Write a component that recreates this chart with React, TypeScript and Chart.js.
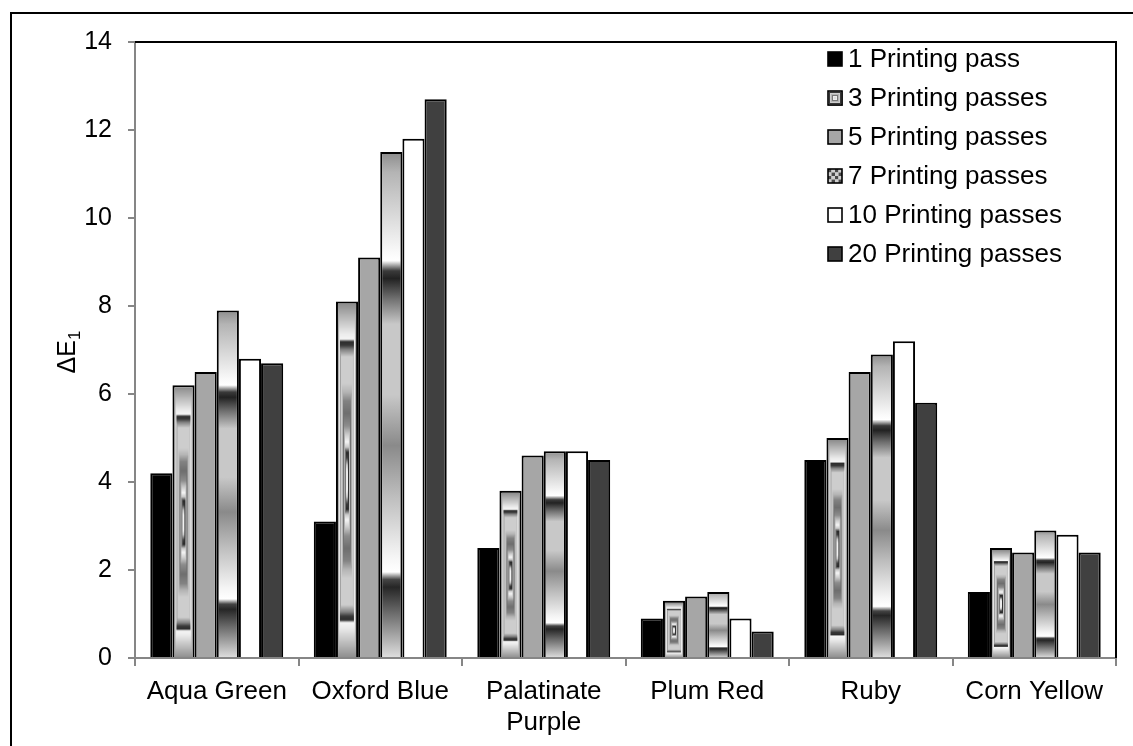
import React, { useEffect, useRef } from 'react';
import { Chart, registerables } from 'chart.js';

Chart.register(...registerables);

// ---------- data ----------
const CATEGORIES: (string | string[])[] = ['Aqua Green', 'Oxford Blue', ['Palatinate', 'Purple'], 'Plum Red', 'Ruby', 'Corn Yellow'];
const SERIES_NAMES = ['1 Printing pass', '3 Printing passes', '5 Printing passes', '7 Printing passes', '10 Printing passes', '20 Printing passes'];
const PASS_1 = [4.2, 3.1, 2.5, 0.9, 4.5, 1.5];
const PASS_3 = [6.2, 8.1, 3.8, 1.3, 5.0, 2.5];
const PASS_5 = [6.5, 9.1, 4.6, 1.4, 6.5, 2.4];
const PASS_7 = [7.9, 11.5, 4.7, 1.5, 6.9, 2.9];
const PASS_10 = [6.8, 11.8, 4.7, 0.9, 7.2, 2.8];
const PASS_20 = [6.7, 12.7, 4.5, 0.6, 5.8, 2.4];
const Y_MIN = 0;
const Y_MAX = 14;
const Y_STEP = 2;
const Y_TITLE_MAIN = 'ΔE';
const Y_TITLE_SUB = '1';

// ---------- style ----------
const FONT = "'Liberation Sans', Arial, Helvetica, sans-serif";
const AXIS_GRAY = '#868686';
const CAT_PCT = 0.813;
const BAR_PCT = 1;
const BORDER = 2;

// rectangle (path) gradient for the "3 passes" series: t = 0 centre, 1 edge
const RECT_STOPS: [number, number][] = [
  [0.0, 235], [0.05, 250], [0.09, 200], [0.13, 60], [0.16, 40], [0.19, 200],
  [0.22, 245], [0.26, 205], [0.31, 140], [0.38, 110], [0.45, 130], [0.5, 180],
  [0.55, 205], [0.7, 205], [0.74, 130], [0.765, 55], [0.785, 45], [0.8, 245],
  [0.83, 235], [0.92, 185], [1.0, 140],
];
// vertical gradient for the "7 passes" series: offset from top of bar
const CHROME_STOPS: [number, string][] = [
  [0, '#8c8c8c'], [0.04, '#b4b4b4'], [0.2, '#fafafa'], [0.215, '#ffffff'],
  [0.235, '#3a3a3a'], [0.25, '#222222'], [0.29, '#707070'], [0.34, '#c8c8c8'],
  [0.48, '#c8c8c8'], [0.58, '#8a8a8a'], [0.68, '#bdbdbd'], [0.8, '#f5f5f5'],
  [0.83, '#ffffff'], [0.845, '#444444'], [0.86, '#262626'], [0.91, '#6a6a6a'],
  [1, '#e0e0e0'],
];

function grayAt(t: number): number {
  for (let i = 1; i < RECT_STOPS.length; i++) {
    const [t1, v1] = RECT_STOPS[i];
    const [t0, v0] = RECT_STOPS[i - 1];
    if (t <= t1) {
      const f = t1 === t0 ? 0 : (t - t0) / (t1 - t0);
      return Math.round(v0 + (v1 - v0) * f);
    }
  }
  return RECT_STOPS[RECT_STOPS.length - 1][1];
}

function makeRectCanvas(w: number, h: number): HTMLCanvasElement {
  const W = Math.max(1, Math.ceil(w) + 1);
  const H = Math.max(1, Math.ceil(h) + 1);
  const cv = document.createElement('canvas');
  cv.width = W;
  cv.height = H;
  const g = cv.getContext('2d')!;
  const img = g.createImageData(W, H);
  const hw = Math.max(w / 2, 0.5);
  const hh = Math.max(h / 2, 0.5);
  for (let y = 0; y < H; y++) {
    for (let x = 0; x < W; x++) {
      const t = Math.min(1, Math.max(Math.abs(x + 0.5 - hw) / hw, Math.abs(y + 0.5 - hh) / hh));
      const v = grayAt(t);
      const k = (y * W + x) * 4;
      img.data[k] = v;
      img.data[k + 1] = v;
      img.data[k + 2] = v;
      img.data[k + 3] = 255;
    }
  }
  g.putImageData(img, 0, 0);
  return cv;
}

function barInner(ctx: any) {
  const chart = ctx.chart;
  const xs = chart.scales?.x;
  const ys = chart.scales?.y;
  if (!xs || !ys || !xs.width || ctx.dataIndex == null) return null;
  const n = chart.data.labels.length;
  const nds = chart.data.datasets.length;
  const size = (xs.width / n) * CAT_PCT;
  const chunk = size / nds;
  const left = xs.getPixelForValue(ctx.dataIndex) - size / 2 + chunk * ctx.datasetIndex;
  const width = chunk * BAR_PCT;
  const top = ys.getPixelForValue(ctx.raw);
  const base = ys.getPixelForValue(0);
  return { x: left + BORDER, y: top + BORDER, w: width - 2 * BORDER, h: base - top - BORDER, top, base };
}

const rectFill = (ctx: any) => {
  if (ctx.type !== 'data') return '#c8c8c8';
  const r = barInner(ctx);
  if (!r || r.w <= 0 || r.h <= 0) return '#c8c8c8';
  const p = ctx.chart.ctx.createPattern(makeRectCanvas(r.w, r.h), 'no-repeat');
  if (!p) return '#c8c8c8';
  p.setTransform(new DOMMatrix([1, 0, 0, 1, r.x, r.y]));
  return p;
};

const chromeFill = (ctx: any) => {
  if (ctx.type !== 'data') return '#a0a0a0';
  const r = barInner(ctx);
  if (!r || r.base - r.top <= 0) return '#a0a0a0';
  const g = ctx.chart.ctx.createLinearGradient(0, r.top, 0, r.base);
  CHROME_STOPS.forEach(([o, c]) => g.addColorStop(o, c));
  return g;
};

function drawSwatch(c: CanvasRenderingContext2D, i: number, x: number, y: number, s: number) {
  c.save();
  if (i === 0) {
    c.fillStyle = '#000';
    c.fillRect(x, y, s, s);
  } else if (i === 1) {
    c.drawImage(makeRectCanvas(s, s), x, y);
  } else if (i === 2) {
    c.fillStyle = '#a6a6a6';
    c.fillRect(x, y, s, s);
  } else if (i === 3) {
    const n = 4;
    const cs = s / n;
    for (let a = 0; a < n; a++) {
      for (let b = 0; b < n; b++) {
        c.fillStyle = (a + b) % 2 === 0 ? '#4a4a4a' : '#d0d0d0';
        c.fillRect(x + a * cs, y + b * cs, cs, cs);
      }
    }
  } else if (i === 4) {
    c.fillStyle = '#fff';
    c.fillRect(x, y, s, s);
  } else {
    c.fillStyle = '#404040';
    c.fillRect(x, y, s, s);
  }
  c.strokeStyle = '#000';
  c.lineWidth = 1.6;
  c.strokeRect(x, y, s, s);
  c.restore();
}

const decorPlugin = {
  id: 'decor',
  beforeDatasetsDraw(chart: any) {
    const c: CanvasRenderingContext2D = chart.ctx;
    const a = chart.chartArea;
    c.save();
    c.strokeStyle = '#000';
    c.lineWidth = 2;
    c.beginPath();
    c.moveTo(a.left, a.top);
    c.lineTo(a.right, a.top);
    c.lineTo(a.right, a.bottom);
    c.stroke();
    c.restore();
  },
  afterDraw(chart: any) {
    const c: CanvasRenderingContext2D = chart.ctx;
    const a = chart.chartArea;
    // legend inside plot area, top right
    c.save();
    const lx = a.right - 288;
    const ly = a.top + 17;
    const row = 39;
    c.font = `26px ${FONT}`;
    c.textBaseline = 'middle';
    c.textAlign = 'left';
    SERIES_NAMES.forEach((name, i) => {
      const cy = ly + i * row;
      drawSwatch(c, i, lx, cy - 7, 14);
      c.fillStyle = '#000';
      c.fillText(name, lx + 20, cy + 1);
    });
    c.restore();

    // y axis title with subscript
    c.save();
    const cy = (a.top + a.bottom) / 2 + 2;
    c.translate(75, cy);
    c.rotate(-Math.PI / 2);
    c.fillStyle = '#000';
    c.textBaseline = 'alphabetic';
    c.font = `25px ${FONT}`;
    const wMain = c.measureText(Y_TITLE_MAIN).width;
    c.font = `17px ${FONT}`;
    const wSub = c.measureText(Y_TITLE_SUB).width;
    const start = -(wMain + wSub) / 2;
    c.font = `25px ${FONT}`;
    c.fillText(Y_TITLE_MAIN, start, 0);
    c.font = `17px ${FONT}`;
    c.fillText(Y_TITLE_SUB, start + wMain, 5);
    c.restore();
  },
};

export default function App() {
  const ref = useRef<HTMLCanvasElement>(null);

  useEffect(() => {
    if (!ref.current) return;
    const base = { categoryPercentage: CAT_PCT, barPercentage: BAR_PCT, borderWidth: BORDER, borderColor: '#000' };
    const chart = new Chart(ref.current, {
      type: 'bar',
      data: {
        labels: CATEGORIES as any,
        datasets: [
          { ...base, label: SERIES_NAMES[0], data: PASS_1, backgroundColor: '#000000' },
          { ...base, label: SERIES_NAMES[1], data: PASS_3, backgroundColor: rectFill as any },
          { ...base, label: SERIES_NAMES[2], data: PASS_5, backgroundColor: '#a6a6a6' },
          { ...base, label: SERIES_NAMES[3], data: PASS_7, backgroundColor: chromeFill as any },
          { ...base, label: SERIES_NAMES[4], data: PASS_10, backgroundColor: '#ffffff' },
          { ...base, label: SERIES_NAMES[5], data: PASS_20, backgroundColor: '#404040' },
        ],
      },
      options: {
        responsive: false,
        devicePixelRatio: 1,
        animation: false,
        events: [],
        layout: { padding: { top: 42, right: 17, left: 0, bottom: 0 } },
        plugins: { legend: { display: false }, tooltip: { enabled: false }, title: { display: false } },
        scales: {
          x: {
            type: 'category',
            offset: true,
            grid: {
              display: true,
              offset: true,
              drawOnChartArea: false,
              drawTicks: true,
              tickLength: 8,
              color: AXIS_GRAY,
              lineWidth: 2,
            },
            border: { display: true, color: AXIS_GRAY, width: 2 },
            ticks: {
              color: '#000',
              font: { family: FONT, size: 26, lineHeight: 1.2 },
              padding: 10,
              maxRotation: 0,
              minRotation: 0,
              autoSkip: false,
            },
            afterFit: (s: any) => {
              s.height = 88;
            },
          },
          y: {
            min: Y_MIN,
            max: Y_MAX,
            grid: {
              drawOnChartArea: false,
              drawTicks: true,
              tickLength: 7,
              color: AXIS_GRAY,
              lineWidth: 2,
            },
            border: { display: true, color: AXIS_GRAY, width: 2 },
            ticks: {
              stepSize: Y_STEP,
              color: '#000',
              font: { family: FONT, size: 25 },
              padding: 16,
            },
            afterFit: (s: any) => {
              s.width = 135;
            },
          },
        },
      },
      plugins: [decorPlugin],
    });
    return () => chart.destroy();
  }, []);

  return (
    <div style={{ position: 'fixed', left: 0, top: 0, width: 1133, height: 746, background: '#fff', overflow: 'hidden' }}>
      <div
        style={{
          position: 'absolute',
          left: 10,
          top: 12,
          width: 1200,
          height: 800,
          borderLeft: '2px solid #000',
          borderTop: '2px solid #000',
        }}
      />
      <canvas ref={ref} width={1133} height={746} style={{ position: 'absolute', left: 0, top: 0, width: 1133, height: 746 }} />
    </div>
  );
}
